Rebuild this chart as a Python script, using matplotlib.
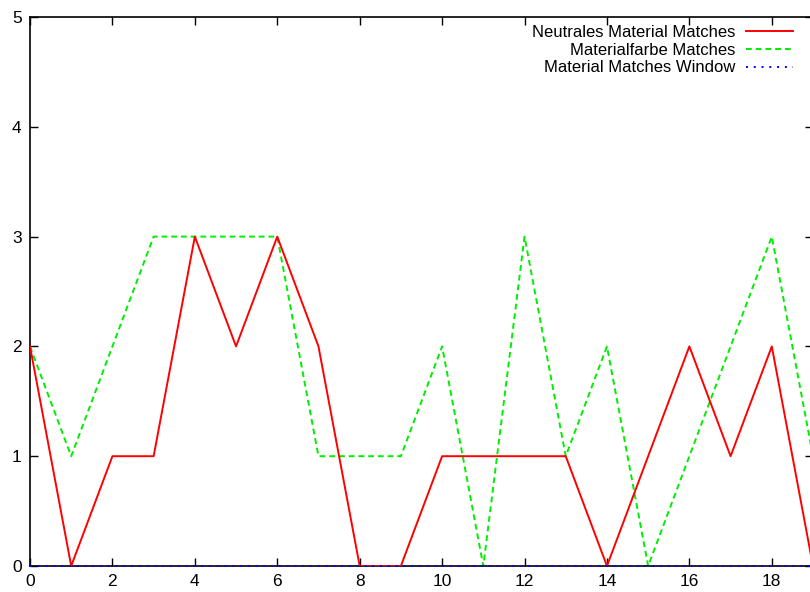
import matplotlib
matplotlib.use("Agg")
import matplotlib.pyplot as plt

x = list(range(20))
neutral = [2, 0, 1, 1, 3, 2, 3, 2, 0, 0, 1, 1, 1, 1, 0, 1, 2, 1, 2, 0]
farbe = [2, 1, 2, 3, 3, 3, 3, 1, 1, 1, 2, 0, 3, 1, 2, 0, 1, 2, 3, 1]
window = [0] * 20
labels = ["Neutrales Material Matches", "Materialfarbe Matches", "Material Matches Window"]

plt.rcParams['font.family'] = ['Liberation Sans', 'DejaVu Sans']
fig = plt.figure(figsize=(8.10, 5.92), dpi=100)
W, H = 810, 592
ax = fig.add_axes([30 / W, (H - 566) / H, (813 - 30) / W, (566 - 17) / H])

l1, = ax.plot(x, neutral, color='#ff0000', lw=1.4, label=labels[0], zorder=3)
l2, = ax.plot(x, farbe, color='#00ee00', lw=1.4, ls=(0, (3, 2)), label=labels[1], zorder=2)
l3, = ax.plot(x, window, color='#0000ff', lw=1.4, ls=(0, (1, 3)), label=labels[2], zorder=4,
              clip_on=False)

ax.set_xlim(0, 19)
ax.set_ylim(0, 5)
ax.set_xticks(range(0, 20, 2))
ax.set_yticks(range(0, 6))
ax.tick_params(direction='in', length=6, width=1, top=True, right=True,
               labelsize=12.5, pad=6, colors='black')
for s in ax.spines.values():
    s.set_linewidth(1.2)
    s.set_color('black')

leg = fig.legend(handles=[l1, l2, l3], loc='upper right',
                 bbox_to_anchor=(793 / W, 1 - 25 / H), bbox_transform=fig.transFigure,
                 frameon=False, markerfirst=False, fontsize=12, handlelength=2.85,
                 handletextpad=0.6, labelspacing=0.16, borderaxespad=0, borderpad=0)

fig.savefig("out.png", dpi=100)
